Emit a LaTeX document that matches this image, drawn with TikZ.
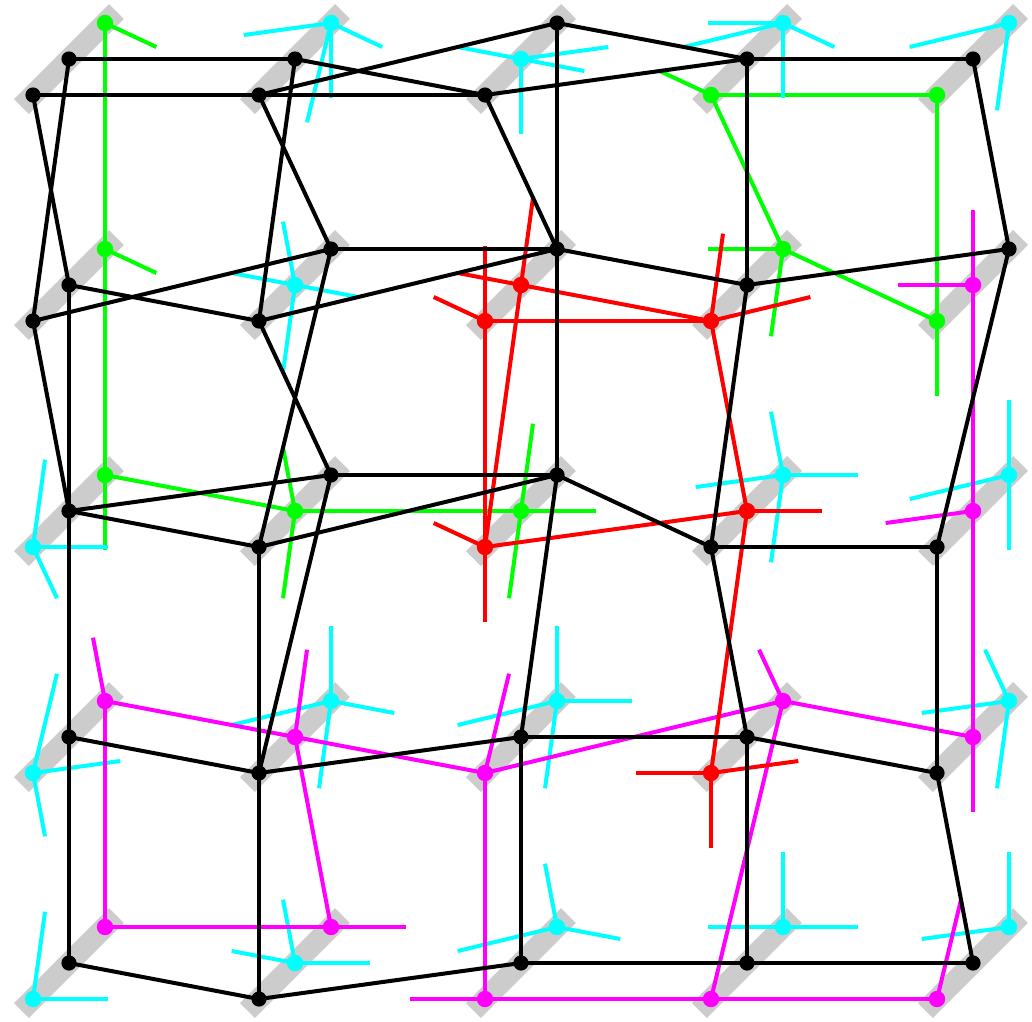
\documentclass[tikz,border=0pt]{standalone}
\usetikzlibrary{calc}
\definecolor{barc}{RGB}{204,204,204}
\definecolor{colG}{RGB}{0,255,0}
\definecolor{colC}{RGB}{0,255,255}
\definecolor{colM}{RGB}{255,0,255}
\definecolor{colR}{RGB}{255,0,0}
\begin{document}
\begin{tikzpicture}[x=1pt,y=-1pt,
  bar/.style={line width=21pt,color=barc},
  edge/.style={line width=4pt},
]
\useasboundingbox (0,0) rectangle (1032,1021);
% sites: lower, middle, upper points on a diagonal bar
\foreach \i in {0,...,4}{
  \foreach \j in {0,...,4}{
    \coordinate (L\i\j) at ({33+226*\i},{95+226*\j});
    \coordinate (M\i\j) at ({69+226*\i},{59+226*\j});
    \coordinate (U\i\j) at ({105+226*\i},{23+226*\j});
    \draw[bar] ({21.5+226*\i},{106.5+226*\j}) -- ({116.5+226*\i},{11.5+226*\j});
  }
}
% ---------- green ----------
\foreach \a/\b in {U00/U01,U01/U02,U02/M12,M12/M22,L30/L40,L30/U31,U31/L41,L40/L41}
  \draw[edge,colG] (\a) -- (\b);
\foreach \a/\b in {U00/L10,U01/L11,U02/U03,M12/L11,M12/L13,M22/M32,M22/U21,M22/L23,L30/U20,U31/U21,U31/M32,L41/L42}
  \draw[edge,colG] (\a) -- ($(\a)!1/3!(\b)$);
% ---------- cyan ----------
\foreach \a/\b in {U10/M00,U10/U11,U10/L11,U10/L20,
  M20/U10,M20/U30,M20/L30,M20/M21,
  U30/U20,U30/L20,U30/L40,U30/U31,
  U40/L30,U40/M41,
  M11/L10,M11/U01,M11/L21,M11/L12,
  L02/M01,L02/L12,L02/U03,
  U32/M31,U32/M22,U32/U42,U32/M33,
  U42/L32,U42/U41,U42/U43,
  L03/U02,L03/M13,L03/M04,
  U13/L03,U13/U12,U13/M14,U13/M23,
  U23/L13,U23/U22,U23/U33,U23/M24,
  U43/M33,U43/M44,U43/L42,
  L04/M03,L04/L14,
  M14/L13,M14/U04,M14/M24,
  U24/M23,U24/L14,U24/M34,
  U34/U24,U34/U44,U34/U33,
  U44/M34,U44/U43}
  \draw[edge,colC] (\a) -- ($(\a)!1/3!(\b)$);
% ---------- magenta ----------
\foreach \a/\b in {M41/M42,M42/M43,U03/U04,U03/M13,M13/U14,M13/L23,U04/U14,L23/L24,L23/U33,L24/L34,L34/U33,L34/L44,U33/M43}
  \draw[edge,colM] (\a) -- (\b);
\foreach \a/\b in {M41/M31,M41/M40,M42/L32,M43/M44,U03/M02,M13/U12,L23/U22,U14/U24,L24/L14,U33/L32,L44/U43}
  \draw[edge,colM] (\a) -- ($(\a)!1/3!(\b)$);
% ---------- red ----------
\foreach \a/\b in {L21/L31,L21/L22,M21/L31,M21/L22,L31/M32,L22/M32,M32/L33}
  \draw[edge,colR] (\a) -- (\b);
\foreach \a/\b in {L21/L20,L21/U11,M21/U20,M21/U11,L31/M30,L31/U41,L22/U12,L22/L23,M32/M42,L33/L23,L33/M43,L33/L34}
  \draw[edge,colR] (\a) -- ($(\a)!1/3!(\b)$);
% ---------- black ----------
\foreach \a/\b in {L00/L10,L10/L20,L00/M01,M00/M10,M00/L01,M10/L20,L10/U20,L10/U11,M10/L11,
  L20/M30,L20/U21,U20/M30,U20/U21,M30/M40,M30/M31,M40/U41,
  L01/U11,L01/M02,M01/L11,M01/M02,L11/U21,L11/U12,U11/U21,U11/L12,
  U21/M31,U21/U22,M31/U41,M31/L32,U41/L42,
  M02/U12,M02/L12,M02/M03,L12/U22,L12/L13,U12/U22,U12/L13,
  U22/L32,U22/M23,L32/L42,L32/M33,L42/L43,
  M03/L13,M03/M04,L13/M23,L13/L14,M23/M33,M23/M24,M33/L43,M33/M34,L43/M44,
  M04/L14,L14/M24,M24/M34,M34/M44}
  \draw[edge,black] (\a) -- (\b);
% ---------- dots ----------
\foreach \p in {L00,M00,L10,M10,L20,U20,M30,M40,L01,M01,L11,U11,U21,M31,U41,
  M02,L12,U12,U22,L32,L42,M03,L13,M23,M33,L43,M04,L14,M24,M34,M44}
  \fill[black] (\p) circle (7.6);
\foreach \p in {U00,U01,U02,L30,L40,U31,L41,M12,M22}
  \fill[colG] (\p) circle (8.2);
\foreach \p in {U10,M20,U30,U40,M11,L02,U32,U42,L03,U13,U23,U43,L04,M14,U24,U34,U44}
  \fill[colC] (\p) circle (8.2);
\foreach \p in {M41,M42,U03,M13,L23,U33,M43,U04,U14,L24,L34,L44}
  \fill[colM] (\p) circle (8.2);
\foreach \p in {L21,M21,L31,L22,M32,L33}
  \fill[colR] (\p) circle (8.2);
\end{tikzpicture}
\end{document}
